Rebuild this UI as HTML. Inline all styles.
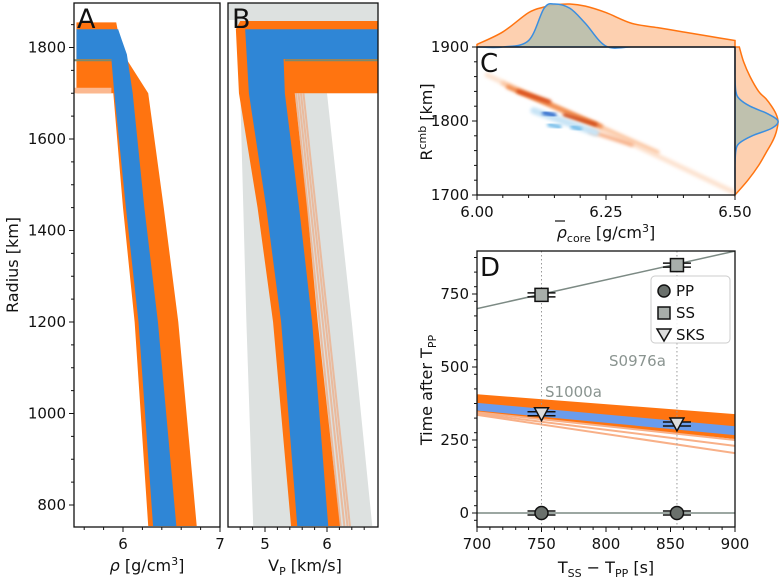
<!DOCTYPE html>
<html><head><meta charset="utf-8"><style>
html,body{margin:0;padding:0;background:#fff;}
svg{display:block;font-family:"DejaVu Sans","Liberation Sans",sans-serif;}
</style></head><body>
<svg id="fig" width="780" height="581" viewBox="0 0 780 581"></svg>
<script>
// ---------- data ----------
const radiusTicks = [800,1000,1200,1400,1600,1800];
const rhoTicks = [6,7];
const vpTicks = [5,6];
// Panel A density profile (g/cm3) at radii
const rhoR = [1700,1450,1200,754];
const rhoBlueL = [5.91,6.03,6.16,6.31];
const rhoBlueR = [6.10,6.22,6.36,6.55];
const rhoOrL = [5.90,6.00,6.12,6.26];
const rhoOrR = [6.26,6.42,6.57,6.76];
// Panel B Vp profile (km/s)
const vpR = [1700,1450,1200,754];
const vpGrayL = [4.60,4.65,4.70,4.81];
const vpGrayR = [6.00,6.20,6.40,6.73];
const vpOrL = [4.58,4.88,5.13,5.42];
const vpOrR = [5.48,5.68,5.85,6.21];
const vpBlueL = [4.74,5.02,5.26,5.52];
const vpBlueR = [5.32,5.55,5.76,6.02];
const vpFaintEnd = [6.22,6.28,6.33,6.37];
// Panel C
const cTicksX = [6.00,6.25,6.50];
const cTicksY = [1700,1800,1900];
const margRho = [6.00,6.05,6.10,6.13,6.15,6.18,6.21,6.25,6.30,6.35,6.40,6.45,6.50];
const margRhoOrange = [0.06,0.35,0.8,0.93,0.98,1.0,0.95,0.8,0.55,0.45,0.35,0.25,0.15];
const margRhoBlue = [0,0,0.15,0.9,1.0,0.9,0.55,0.02,0,0,0,0,0];
const margR = [1700,1720,1740,1760,1770,1780,1790,1800,1810,1820,1830,1840,1860,1880,1900];
const margROrange = [0.0,0.3,0.55,0.75,0.85,0.93,0.98,1.0,0.95,0.85,0.72,0.55,0.35,0.2,0.1];
const margRBlue = [0,0,0,0.02,0.1,0.4,0.85,1.0,0.75,0.35,0.1,0.02,0,0,0];
// Panel D
const dTicksX = [700,750,800,850,900];
const dTicksY = [0,250,500,750];
const events = [750,855];
const ppTime = [0,0];
const ssTime = [747,849];
const sksTime = [340,305];
const orangeStart = [398,392,386,380,374,368,362,356,350,345,340,336];
const orangeEnd = [330,322,314,306,298,290,282,272,262,250,230,205];
const blueStart = [372,368,364,360,356];
const blueEnd = [292,287,282,277,272];

// ---------- helpers ----------
const NS="http://www.w3.org/2000/svg";
const svg=document.getElementById('fig');
function mk(tag,attrs,parent){const e=document.createElementNS(NS,tag);for(const k in attrs)e.setAttribute(k,attrs[k]);(parent||svg).appendChild(e);return e;}
const yR=r=>47.5+(1800-r)*0.4575;
const xA=v=>123+97*(v-6);
const xB=v=>265+62*(v-5);
const xC=v=>477+516*(v-6);
const yC=r=>47+(1900-r)*0.74;
const xD=t=>477+1.29*(t-700);
const yD=t=>513-0.292*t;
function poly(pts,fill,name,op){const p=mk('polygon',{points:pts.map(q=>q.join(',')).join(' '),fill:fill,'fill-opacity':op||1,'stroke-linejoin':'round'});return p;}

const defs=mk('defs',{});
const cA=mk('clipPath',{id:'clipA'},defs);mk('rect',{x:74,y:3,width:146,height:524},cA);
const cB=mk('clipPath',{id:'clipB'},defs);mk('rect',{x:228,y:3,width:150,height:524},cB);
const cD=mk('clipPath',{id:'clipD'},defs);mk('rect',{x:477,y:251,width:258,height:276},cD);
const cC=mk('clipPath',{id:'clipC'},defs);mk('rect',{x:477,y:47,width:258,height:148},cC);
const fl=mk('filter',{id:'blur',x:'-50%',y:'-50%',width:'200%',height:'200%'},defs);mk('feGaussianBlur',{stdDeviation:1.6},fl);

// ---------- Panel A ----------
const gA=mk('g',{'clip-path':'url(#clipA)'});
let pts=[[xA(5.52),yR(1855)],[xA(5.93),yR(1855)],[xA(5.98),yR(1800)],[xA(6.05),yR(1770)]];
rhoR.forEach((r,i)=>pts.push([xA(rhoOrR[i]),yR(r)]));
for(let i=rhoR.length-1;i>=0;i--)pts.push([xA(rhoOrL[i]),yR(rhoR[i])]);
pts.push([xA(5.88),yR(1700)],[xA(5.52),yR(1700)]);
gA.appendChild(poly(pts,'#ff7410','rho-orange-band'));
mk('rect',{x:74,y:yR(1712),width:xA(5.88)-74,height:yR(1700)-yR(1712),fill:'#fbb890'},gA);
pts=[[xA(5.52),yR(1840)],[xA(5.95),yR(1840)],[xA(5.99),yR(1815)],[xA(6.04),yR(1785)]];
rhoR.forEach((r,i)=>pts.push([xA(rhoBlueR[i]),yR(r)]));
for(let i=rhoR.length-1;i>=0;i--)pts.push([xA(rhoBlueL[i]),yR(rhoR[i])]);
pts.push([xA(5.88),yR(1775)],[xA(5.52),yR(1775)]);
gA.appendChild(poly(pts,'#2f86d6','rho-blue-band'));
mk('line',{x1:74,y1:yR(1772),x2:xA(5.88),y2:yR(1772),stroke:'#7a8a70','stroke-width':2},gA);
mk('rect',{x:74,y:3,width:146,height:524,fill:'none',stroke:'#111','stroke-width':1.3,});
mk('text',{x:77,y:28,'font-size':27,fill:'#111',}).textContent='A';

// ---------- Panel B ----------
const gB=mk('g',{'clip-path':'url(#clipB)'});
pts=[[228,3],[378,3],[378,yR(1700)]];
vpR.forEach((r,i)=>pts.push([xB(vpGrayR[i]),yR(r)]));
for(let i=vpR.length-1;i>=0;i--)pts.push([xB(vpGrayL[i]),yR(vpR[i])]);
pts.push([xB(4.55),yR(1860)],[228,yR(1860)]);
gB.appendChild(poly(pts,'#dde1e0','vp-prior-band'));
pts=[[xB(4.53),yR(1840)],[xB(4.6),yR(1858)],[378,yR(1858)],[378,yR(1700)]];
vpR.forEach((r,i)=>pts.push([xB(vpOrR[i]),yR(r)]));
for(let i=vpR.length-1;i>=0;i--)pts.push([xB(vpOrL[i]),yR(vpR[i])]);
gB.appendChild(poly(pts,'#ff7410','vp-orange-band'));
vpFaintEnd.forEach((v,i)=>{const l=mk('line',{x1:xB(5.5+i*0.04),y1:yR(1700),x2:xB(v),y2:yR(754),stroke:'#f4a070','stroke-width':2,'stroke-opacity':0.6},gB);

});
pts=[[xB(4.68),yR(1840)],[378,yR(1840)],[378,yR(1775)],[xB(5.30),yR(1775)]];
vpR.forEach((r,i)=>pts.push([xB(vpBlueR[i]),yR(r)]));
for(let i=vpR.length-1;i>=0;i--)pts.push([xB(vpBlueL[i]),yR(vpR[i])]);
gB.appendChild(poly(pts,'#2f86d6','vp-blue-band'));
mk('line',{x1:xB(5.32),y1:yR(1772),x2:378,y2:yR(1772),stroke:'#7a8a70','stroke-width':2},gB);
mk('rect',{x:228,y:3,width:150,height:524,fill:'none',stroke:'#111','stroke-width':1.3,});
mk('text',{x:232,y:28,'font-size':27,fill:'#111',}).textContent='B';

// Axes A/B ticks
radiusTicks.forEach(r=>{mk('line',{x1:69,y1:yR(r),x2:74,y2:yR(r),stroke:'#111'});
const t=mk('text',{x:66,y:yR(r)+5,'font-size':15,'text-anchor':'end',fill:'#111'});t.textContent=r;

});
for(let r=800;r<=1850;r+=50){mk('line',{x1:71,y1:yR(r),x2:74,y2:yR(r),stroke:'#111'});}
rhoTicks.forEach(v=>{mk('line',{x1:xA(v),y1:527,x2:xA(v),y2:532,stroke:'#111'});
const t=mk('text',{x:xA(v),y:549,'font-size':15,'text-anchor':'middle',fill:'#111'});t.textContent=v;

});
for(let v=5.6;v<7;v+=0.2){mk('line',{x1:xA(v),y1:527,x2:xA(v),y2:530,stroke:'#111'});}
vpTicks.forEach(v=>{mk('line',{x1:xB(v),y1:527,x2:xB(v),y2:532,stroke:'#111'});
const t=mk('text',{x:xB(v),y:549,'font-size':15,'text-anchor':'middle',fill:'#111'});t.textContent=v;

});
for(let v=4.6;v<6.8;v+=0.2){mk('line',{x1:xB(v),y1:527,x2:xB(v),y2:530,stroke:'#111'});}
</script>
<script>
const S=document.getElementById('fig');
function tx(x,y,s,txt,name,extra){const e=document.createElementNS("http://www.w3.org/2000/svg",'text');e.setAttribute('x',x);e.setAttribute('y',y);e.setAttribute('font-size',s);e.setAttribute('fill','#111');if(extra)for(const k in extra)e.setAttribute(k,extra[k]);e.innerHTML=txt;S.appendChild(e);return e;}
tx(18,265,16,'Radius [km]','y-axis-title-radius',{'text-anchor':'middle',transform:'rotate(-90 18 265)'});
tx(147,571,16,'<tspan font-style="italic">ρ</tspan> [g/cm<tspan dy="-6" font-size="11">3</tspan><tspan dy="6">]</tspan>','x-axis-title-rho',{'text-anchor':'middle'});
tx(305,571,16,'V<tspan dy="4" font-size="11">P</tspan><tspan dy="-4"> [km/s]</tspan>','x-axis-title-vp',{'text-anchor':'middle'});
tx(432,122,16,'R<tspan dy="-6" font-size="11">cmb</tspan><tspan dy="6"> [km]</tspan>','y-axis-title-rcmb',{'text-anchor':'middle',transform:'rotate(-90 432 122)'});
tx(606,238,16,'<tspan font-style="italic">ρ</tspan><tspan dy="4" font-size="11">core</tspan><tspan dy="-4"> [g/cm</tspan><tspan dy="-6" font-size="11">3</tspan><tspan dy="6">]</tspan>','x-axis-title-rhocore',{'text-anchor':'middle'});
tx(432,390,16,'Time after T<tspan dy="4" font-size="11">PP</tspan>','y-axis-title-time',{'text-anchor':'middle',transform:'rotate(-90 432 390)'});
tx(606,573,16,'T<tspan dy="4" font-size="11">SS</tspan><tspan dy="-4"> − T</tspan><tspan dy="4" font-size="11">PP</tspan><tspan dy="-4"> [s]</tspan>','x-axis-title-tss-tpp',{'text-anchor':'middle'});
</script>
<script>
(function(){
const NS="http://www.w3.org/2000/svg";
function mk(tag,a,p){const e=document.createElementNS(NS,tag);for(const k in a)e.setAttribute(k,a[k]);(p||S).appendChild(e);return e;}
function smooth(P){let d='M'+P[0][0]+','+P[0][1];for(let i=0;i<P.length-1;i++){const p0=P[i-1]||P[i],p1=P[i],p2=P[i+1],p3=P[i+2]||p2;
d+=' C'+(p1[0]+(p2[0]-p0[0])/6)+','+(p1[1]+(p2[1]-p0[1])/6)+' '+(p2[0]-(p3[0]-p1[0])/6)+','+(p2[1]-(p3[1]-p1[1])/6)+' '+p2[0]+','+p2[1];}return d;}
// rho bar overline
mk('line',{x1:555,y1:221,x2:565,y2:221,stroke:'#111','stroke-width':1.2});
// top marginal
let P=margRho.map((v,i)=>[xC(v),47-margRhoOrange[i]*43]);
let p=mk('path',{d:smooth(P)+' L'+xC(6.5)+',47 L'+xC(6.0)+',47 Z',fill:'#fdd0b0',stroke:'#ff7410','stroke-width':1.5});


P=margRho.map((v,i)=>[xC(v),47-margRhoBlue[i]*43]);
p=mk('path',{d:smooth(P)+' Z',fill:'#b8bfae','fill-opacity':0.9,stroke:'#3a8ee0','stroke-width':1.5});


// right marginal
P=margR.map((r,i)=>[735+margROrange[i]*43,yC(r)]);
p=mk('path',{d:smooth(P)+' L735,'+yC(1900)+' L735,'+yC(1700)+' Z',fill:'#fdd0b0',stroke:'#ff7410','stroke-width':1.5});


P=margR.map((r,i)=>[735+margRBlue[i]*43,yC(r)]);
p=mk('path',{d:smooth(P)+' Z',fill:'#b8bfae','fill-opacity':0.9,stroke:'#3a8ee0','stroke-width':1.5});


// contours
const gc=mk('g',{'clip-path':'url(#clipC)'});
const segs=[[6.02,1862,6.5,1703,5,'#fde3d0'],[6.05,1851,6.35,1758,4,'#fbc8a4'],[6.22,1786,6.30,1768,4,'#f7b088'],[6.06,1846,6.24,1793,4,'#f08848'],[6.08,1840,6.14,1826,4,'#d84a18'],[6.17,1808,6.23,1795,4,'#d04a18']];
segs.forEach(s=>{const l=mk('line',{x1:xC(s[0]),y1:yC(s[1]),x2:xC(s[2]),y2:yC(s[3]),stroke:s[5],'stroke-width':s[4],'stroke-linecap':'round',filter:'url(#blur)'},gc);

});
const blobs=[[6.11,1814,6.23,1784,7,'#c8e4f6'],[6.13,1811,6.15,1808,4,'#2060c8'],[6.14,1795,6.16,1792,4,'#6ab8e8'],[6.185,1792,6.2,1789,4,'#6ab8e8']];
blobs.forEach(s=>{const l=mk('line',{x1:xC(s[0]),y1:yC(s[1]),x2:xC(s[2]),y2:yC(s[3]),stroke:s[5],'stroke-width':s[4],'stroke-linecap':'round',filter:'url(#blur)'},gc);

});
mk('rect',{x:477,y:47,width:258,height:148,fill:'none',stroke:'#111','stroke-width':1.3,});
mk('text',{x:480,y:72,'font-size':26,fill:'#111',}).textContent='C';
cTicksX.forEach(v=>{mk('line',{x1:xC(v),y1:195,x2:xC(v),y2:200,stroke:'#111'});
const t=mk('text',{x:xC(v),y:217,'font-size':15,'text-anchor':'middle',fill:'#111'});t.textContent=v.toFixed(2);

});
for(let v=6.05;v<6.5;v+=0.05)mk('line',{x1:xC(v),y1:195,x2:xC(v),y2:198,stroke:'#111'});
cTicksY.forEach(r=>{mk('line',{x1:472,y1:yC(r),x2:477,y2:yC(r),stroke:'#111'});
const t=mk('text',{x:469,y:yC(r)+5,'font-size':15,'text-anchor':'end',fill:'#111'});t.textContent=r;

});
for(let r=1720;r<1900;r+=20)mk('line',{x1:474,y1:yC(r),x2:477,y2:yC(r),stroke:'#111'});

// Panel D
const g=mk('g',{'clip-path':'url(#clipD)'});
orangeStart.forEach((v,i)=>{const l=mk('line',{x1:xD(700),y1:yD(v),x2:xD(900),y2:yD(orangeEnd[i]),stroke:i<9?'#ff7410':'#f8b088','stroke-width':i<9?5:2},g);

});
blueStart.forEach((v,i)=>{const l=mk('line',{x1:xD(700),y1:yD(v),x2:xD(900),y2:yD(blueEnd[i]),stroke:'#6a9cec','stroke-width':3},g);

});
mk('line',{x1:xD(700),y1:yD(700),x2:xD(900),y2:yD(897),stroke:'#7c8a84','stroke-width':1.5},g);
mk('line',{x1:xD(700),y1:yD(0),x2:xD(900),y2:yD(0),stroke:'#7c8a84','stroke-width':1.5},g);
events.forEach(e=>mk('line',{x1:xD(e),y1:251,x2:xD(e),y2:527,stroke:'#999','stroke-width':1,'stroke-dasharray':'1.5,2.5'},g));
events.forEach((e,i)=>{
 const x=xD(e);
 [ppTime[i],ssTime[i],sksTime[i]].forEach(t=>{const y=yD(t);
  mk('line',{x1:x-14,y1:y-2,x2:x+14,y2:y-2,stroke:'#111','stroke-width':1.5});
  mk('line',{x1:x-14,y1:y+2,x2:x+14,y2:y+2,stroke:'#111','stroke-width':1.5});});
 let c=mk('circle',{cx:x,cy:yD(ppTime[i]),r:6.5,fill:'#6a706c',stroke:'#111','stroke-width':1.5});
 
 
 c=mk('rect',{x:x-6.5,y:yD(ssTime[i])-6.5,width:13,height:13,fill:'#a8aeaa',stroke:'#111','stroke-width':1.5});
 
 
 const y=yD(sksTime[i]);
 c=mk('polygon',{points:`${x-7},${y-6} ${x+7},${y-6} ${x},${y+7}`,fill:'#dcdcdc',stroke:'#111','stroke-width':1.5});
 
 
});
mk('text',{x:545,y:397,'font-size':15,fill:'#8a9490',}).textContent='S1000a';
mk('text',{x:609,y:366,'font-size':15,fill:'#8a9490',}).textContent='S0976a';
// legend
const lg=mk('g',{});
mk('rect',{x:651,y:276,width:79,height:67,rx:4,fill:'#fff','fill-opacity':0.85,stroke:'#ccc'},lg);
mk('circle',{cx:664,cy:291,r:6,fill:'#6a706c',stroke:'#111','stroke-width':1.5},lg);
mk('rect',{x:658,y:307,width:12,height:12,fill:'#a8aeaa',stroke:'#111','stroke-width':1.5},lg);
mk('polygon',{points:'657,329 671,329 664,341',fill:'#dcdcdc',stroke:'#111','stroke-width':1.5},lg);
[['PP',296],['SS',318],['SKS',340]].forEach(a=>{const t=mk('text',{x:676,y:a[1],'font-size':15,fill:'#111'},lg);t.textContent=a[0];

});
mk('rect',{x:477,y:251,width:258,height:276,fill:'none',stroke:'#111','stroke-width':1.3,});
mk('text',{x:480,y:276,'font-size':26,fill:'#111',}).textContent='D';
dTicksX.forEach(v=>{mk('line',{x1:xD(v),y1:527,x2:xD(v),y2:532,stroke:'#111'});
const t=mk('text',{x:xD(v),y:549,'font-size':15,'text-anchor':'middle',fill:'#111'});t.textContent=v;

});
for(let v=710;v<900;v+=10)mk('line',{x1:xD(v),y1:527,x2:xD(v),y2:530,stroke:'#111'});
dTicksY.forEach(v=>{mk('line',{x1:472,y1:yD(v),x2:477,y2:yD(v),stroke:'#111'});
const t=mk('text',{x:469,y:yD(v)+5,'font-size':15,'text-anchor':'end',fill:'#111'});t.textContent=v;

});
for(let v=-25;v<900;v+=50)mk('line',{x1:474,y1:yD(v),x2:477,y2:yD(v),stroke:'#111'});
})();
</script>
</body></html>
